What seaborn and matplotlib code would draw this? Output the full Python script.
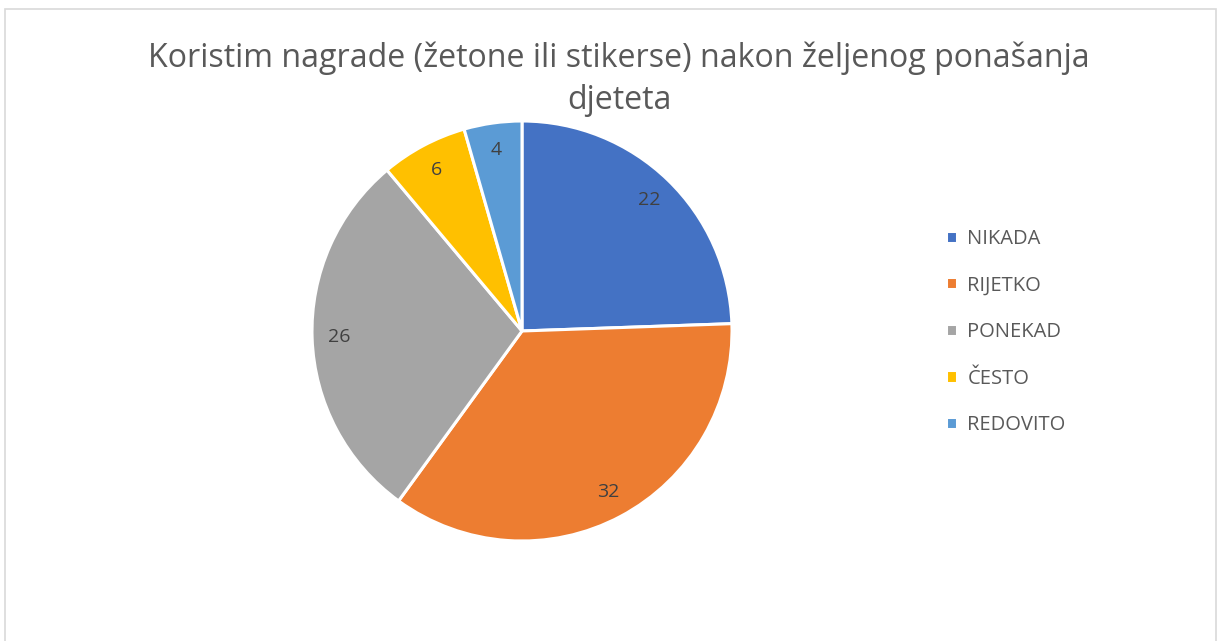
import matplotlib
matplotlib.use("Agg")
import matplotlib.pyplot as plt
import seaborn as sns
from matplotlib.patches import Rectangle

categories = ["NIKADA", "RIJETKO", "PONEKAD", "ČESTO", "REDOVITO"]
values = [22, 32, 26, 6, 4]
colors = ["#4472C4", "#ED7D31", "#A5A5A5", "#FFC000", "#5B9BD5"]
title = "Koristim nagrade (žetone ili stikerse) nakon željenog ponašanja\ndjeteta"

sns.set_theme(style="white")
plt.rcParams["font.family"] = ["Open Sans", "DejaVu Sans"]

W, H = 1222, 641
fig = plt.figure(figsize=(W / 100, H / 100), dpi=100)
fig.patch.set_facecolor("white")
fig.add_artist(Rectangle((5 / W, -0.01), (1216 - 5) / W, 1 - 9 / H + 0.01,
                         transform=fig.transFigure, fill=False,
                         edgecolor="#D9D9D9", linewidth=1.2))

cx, cy, r = 522, 331, 210
ax = fig.add_axes([(cx - r) / W, (H - cy - r) / H, 2 * r / W, 2 * r / H])
wedges, texts, autotexts = ax.pie(
    values, colors=colors, startangle=90, counterclock=False,
    autopct=lambda p: f"{round(p * sum(values) / 100):d}", pctdistance=0.87,
    wedgeprops=dict(edgecolor="white", linewidth=2.2, clip_on=False),
    textprops=dict(color="#404040", fontsize=14),
)
ax.set_xlim(-1.0, 1.0)
ax.set_ylim(-1.0, 1.0)
ax.set_aspect("equal")
ax.axis("off")

fig.text(619 / W, 1 - 79 / H, title, ha="center", va="center",
         fontsize=23.1, color="#595959", linespacing=1.35)

leg = fig.legend(wedges, categories, loc="center left",
                 bbox_to_anchor=(928 / W, 1 - 332 / H), frameon=False,
                 fontsize=14.5, labelcolor="#595959", handlelength=0.55,
                 handleheight=0.55, handletextpad=0.5, labelspacing=1.32)

fig.savefig("out.png", dpi=100, facecolor="white")
